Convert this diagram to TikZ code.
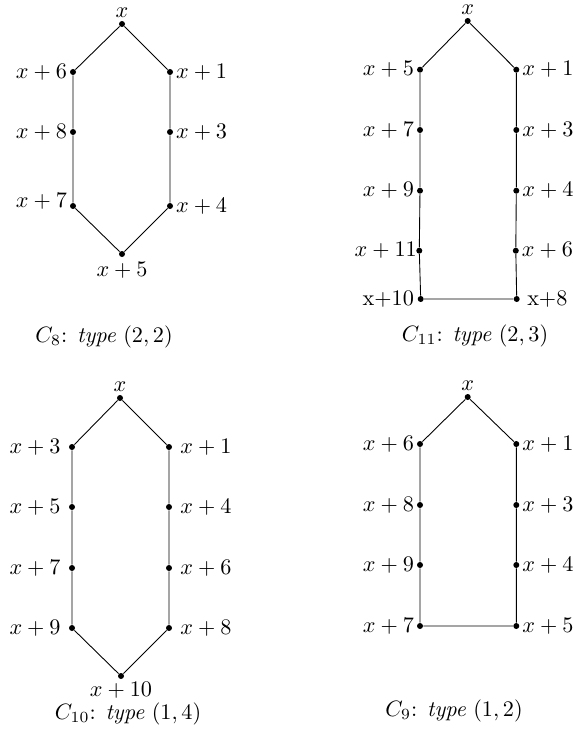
\documentclass[tikz,border=0pt]{standalone}
\usepackage{amsmath,amssymb}
\usetikzlibrary{positioning}

\begin{document}
\begin{tikzpicture}[x=0.45pt,y=-0.45pt,
  vtx/.style={circle,fill=black,inner sep=0pt,minimum size=2.7pt},
  lbl/.style={inner sep=1pt},
  wlbl/.style={inner sep=3.4pt},
  captn/.style={inner sep=0pt}]
  \useasboundingbox (0,0) rectangle (572,730);
  % C_8 (top left)
  \node[vtx](a0) at (122,24){};  \node[lbl,above=0pt of a0](la0){$x$};
  \node[vtx](a1) at (170,72){};  \node[lbl,right=0pt of a1](la1){$x+1$};
  \node[vtx](a3) at (170,132){}; \node[lbl,right=0pt of a3](la3){$x+3$};
  \node[vtx](a4) at (170,206){}; \node[lbl,right=0pt of a4](la4){$x+4$};
  \node[vtx](a5) at (122,254){}; \node[lbl,below=1pt of a5](la5){$x+5$};
  \node[vtx](a7) at (73,206){};  \node[lbl,left=0pt of a7,yshift=2pt](la7){$x+7$};
  \node[vtx](a8) at (73,132){};  \node[lbl,left=0pt of a8](la8){$x+8$};
  \node[vtx](a6) at (73,72){};   \node[lbl,left=0pt of a6](la6){$x+6$};
  \draw (a0)--(a1)--(a3)--(a4)--(a5)--(a7)--(a8)--(a6)--(a0);
  \node[captn](ca) at (104,337){$C_8$: \textit{type} $(2,2)$};
  % C_11 (top right)
  \node[vtx](b0) at (467.7,21){};   \node[lbl,above=0pt of b0](lb0){$x$};
  \node[vtx](b1) at (516.3,69.7){}; \node[lbl,right=0pt of b1](lb1){$x+1$};
  \node[vtx](b3) at (516.3,130){};  \node[lbl,right=0pt of b3](lb3){$x+3$};
  \node[vtx](b4) at (516.3,190.7){};\node[lbl,right=0pt of b4](lb4){$x+4$};
  \node[vtx](b6) at (515.8,250.7){};\node[lbl,right=0pt of b6](lb6){$x+6$};
  \node[vtx](b8) at (516.7,299){};  \node[lbl,right=2pt of b8](lb8){x+8};
  \node[vtx](b10) at (420.7,299){}; \node[lbl,left=0.3pt of b10](lb10){x+10};
  \node[vtx](b11) at (419.3,250.7){};\node[lbl,left=-1.6pt of b11](lb11){$x+11$};
  \node[vtx](b9) at (420,190.7){};  \node[lbl,left=0pt of b9](lb9){$x+9$};
  \node[vtx](b7) at (420,130){};    \node[lbl,left=0pt of b7](lb7){$x+7$};
  \node[vtx](b5) at (420,69.7){};   \node[lbl,left=0pt of b5](lb5){$x+5$};
  \draw (b0)--(b1)--(b3)--(b4)--(b6)--(b8)--(b10)--(b11)--(b9)--(b7)--(b5)--(b0);
  \node[captn](cb) at (475,336){$C_{11}$: \textit{type} $(2,3)$};
  % C_10 (bottom left)
  \node[vtx](c0) at (120,398){};  \node[lbl,above=0pt of c0](lc0){$x$};
  \node[vtx](c1) at (169,447){};  \node[wlbl,right=0pt of c1](lc1){$x+1$};
  \node[vtx](c4) at (169,507){};  \node[wlbl,right=0pt of c4](lc4){$x+4$};
  \node[vtx](c6) at (169,568){};  \node[wlbl,right=0pt of c6](lc6){$x+6$};
  \node[vtx](c8) at (169,628){};  \node[wlbl,right=0pt of c8](lc8){$x+8$};
  \node[vtx](c10) at (121,676){}; \node[lbl,inner sep=0pt,below=1pt of c10](lc10){$x+10$};
  \node[vtx](c9) at (72,628){};   \node[wlbl,left=0pt of c9](lc9){$x+9$};
  \node[vtx](c7) at (72,568){};   \node[wlbl,left=0pt of c7](lc7){$x+7$};
  \node[vtx](c5) at (72,507){};   \node[wlbl,left=0pt of c5](lc5){$x+5$};
  \node[vtx](c3) at (72,447){};   \node[wlbl,left=0pt of c3](lc3){$x+3$};
  \draw (c0)--(c1)--(c4)--(c6)--(c8)--(c10)--(c9)--(c7)--(c5)--(c3)--(c0);
  \node[captn](cc) at (128,714){$C_{10}$: \textit{type} $(1,4)$};
  % C_9 (bottom right)
  \node[vtx](d0) at (467.7,397){};  \node[lbl,above=0pt of d0](ld0){$x$};
  \node[vtx](d1) at (516.3,444){};  \node[lbl,right=0pt of d1](ld1){$x+1$};
  \node[vtx](d3) at (516.3,505){};  \node[lbl,right=0pt of d3](ld3){$x+3$};
  \node[vtx](d4) at (516.3,565){};  \node[lbl,right=0pt of d4](ld4){$x+4$};
  \node[vtx](d5) at (516.3,626){};  \node[lbl,right=0pt of d5](ld5){$x+5$};
  \node[vtx](d7) at (420,626){};    \node[lbl,left=0pt of d7](ld7){$x+7$};
  \node[vtx](d9) at (420,565){};    \node[lbl,left=0pt of d9](ld9){$x+9$};
  \node[vtx](d8) at (420,505){};    \node[lbl,left=0pt of d8](ld8){$x+8$};
  \node[vtx](d6) at (420,444){};    \node[lbl,left=0pt of d6](ld6){$x+6$};
  \draw (d0)--(d1)--(d3)--(d4)--(d5)--(d7)--(d9)--(d8)--(d6)--(d0);
  \node[captn](cd) at (454,711){$C_9$: \textit{type} $(1,2)$};
\end{tikzpicture}
\end{document}
